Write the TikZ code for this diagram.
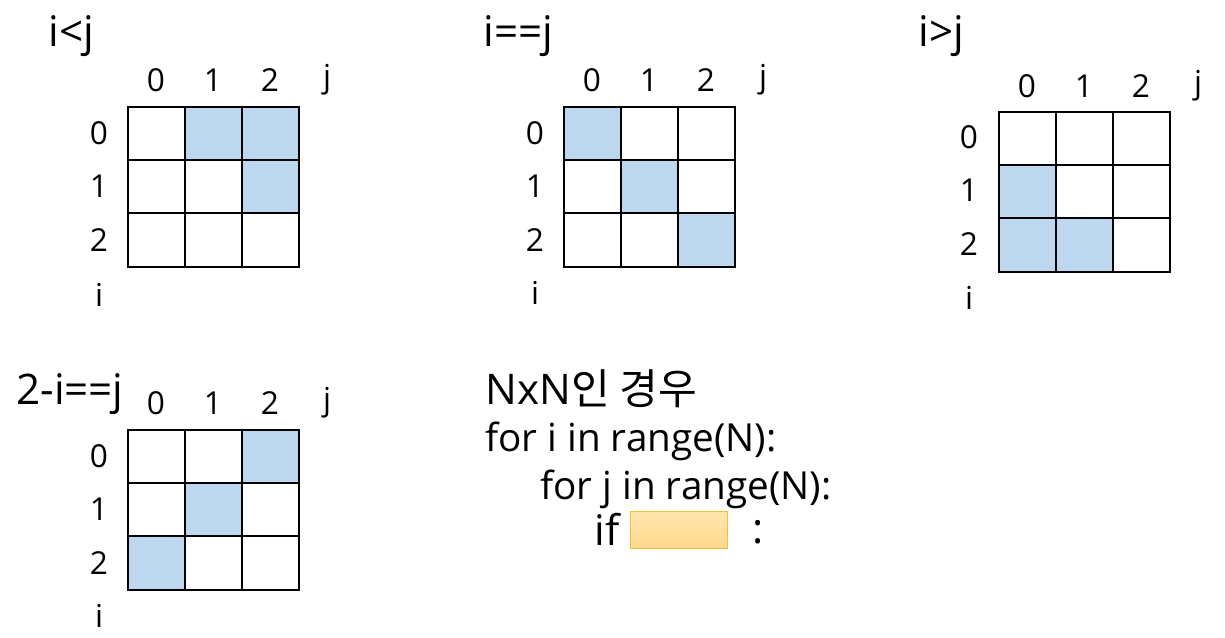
\documentclass[tikz,border=0pt]{standalone}
\usepackage{fontspec}
\setmainfont{Open Sans}
\newfontfamily\krfont{Noto Sans CJK KR}
\usetikzlibrary{positioning}
\definecolor{cellblue}{RGB}{189,215,238}
\definecolor{condfill}{RGB}{255,218,140}
\definecolor{condline}{RGB}{244,190,60}

\begin{document}
\begin{tikzpicture}[
  x=0.02cm, y=-0.02cm,
  cell/.style={rectangle, draw=black, line width=1pt, minimum width=1.14cm, minimum height=1.07cm, inner sep=0pt},
  lbl/.style={font=\fontsize{18}{20}\selectfont, inner sep=0pt},
  title/.style={font=\fontsize{24}{28}\selectfont, anchor=base west, inner sep=0pt},
  code/.style={font=\fontsize{22}{26}\selectfont, anchor=base west, inner sep=0pt}
]
\useasboundingbox (0,0) rectangle (1225,638);

% --- i<j (upper left) ---
\node[title] (tA) at (48,47) {i<j};
\foreach \r in {0,1,2}
  \foreach \c in {0,1,2} {
    \ifnum\c>\r \def\cf{cellblue}\else\def\cf{white}\fi
    \node[cell, fill=\cf] (a\r\c) at (156.5+57*\c, 133.5+53.3*\r) {};
  }
\foreach \c in {0,1,2}
  \node[lbl] (ac\c) at (156+57*\c, 80) {\c};
\node[lbl] (aj) at (327,80) {j};
\foreach \r in {0,1,2}
  \node[lbl] (ar\r) at (99, 133+53.5*\r) {\r};
\node[lbl] (ai) at (99,295) {i};

% --- i==j (upper middle) ---
\node[title] (tB) at (483,47) {i==j};
\foreach \r in {0,1,2}
  \foreach \c in {0,1,2} {
    \ifnum\c=\r \def\cf{cellblue}\else\def\cf{white}\fi
    \node[cell, fill=\cf] (b\r\c) at (592.5+57*\c, 133.5+53.3*\r) {};
  }
\foreach \c in {0,1,2}
  \node[lbl] (bc\c) at (592+57*\c, 80) {\c};
\node[lbl] (bj) at (763,80) {j};
\foreach \r in {0,1,2}
  \node[lbl] (br\r) at (535, 133+53.5*\r) {\r};
\node[lbl] (bi) at (535,293) {i};

% --- i>j (upper right) ---
\node[title] (tC) at (918,47) {i>j};
\foreach \r in {0,1,2}
  \foreach \c in {0,1,2} {
    \ifnum\c<\r \def\cf{cellblue}\else\def\cf{white}\fi
    \node[cell, fill=\cf] (c\r\c) at (1027.5+57*\c, 138.5+53.3*\r) {};
  }
\foreach \c in {0,1,2}
  \node[lbl] (cc\c) at (1027+57*\c, 86) {\c};
\node[lbl] (cj) at (1198,86) {j};
\foreach \r in {0,1,2}
  \node[lbl] (cr\r) at (969, 137+53.5*\r) {\r};
\node[lbl] (ci) at (969,298) {i};

% --- 2-i==j (lower left) ---
\node[title] (tD) at (16,405) {2-i==j};
\foreach \r in {0,1,2}
  \foreach \c in {0,1,2} {
    \pgfmathtruncatemacro\s{\r+\c}
    \ifnum\s=2 \def\cf{cellblue}\else\def\cf{white}\fi
    \node[cell, fill=\cf] (d\r\c) at (156.5+57*\c, 456.5+53.3*\r) {};
  }
\foreach \c in {0,1,2}
  \node[lbl] (dc\c) at (156+57*\c, 403) {\c};
\node[lbl] (dj) at (327,403) {j};
\foreach \r in {0,1,2}
  \node[lbl] (dr\r) at (99, 456+53.5*\r) {\r};
\node[lbl] (di) at (99,616) {i};

% --- loop code ---
\node[code, font=\fontsize{24}{28}\selectfont] (l1) at (485,405) {NxN{\krfont 인 경우}};
\node[code] (l2) at (485,452) {for i in range(N):};
\node[code] (l3) at (540,500) {for j in range(N):};
\node[code, font=\fontsize{24}{28}\selectfont] (l4) at (594,546) {if};
\node[rectangle, draw=condline, top color=condfill!70, bottom color=condfill, minimum width=1.94cm, minimum height=0.74cm, inner sep=0pt] (cond) at (678.5,529.5) {};
\node[code, font=\fontsize{24}{28}\selectfont] (colon) at (752,544) {:};
\end{tikzpicture}
\end{document}
